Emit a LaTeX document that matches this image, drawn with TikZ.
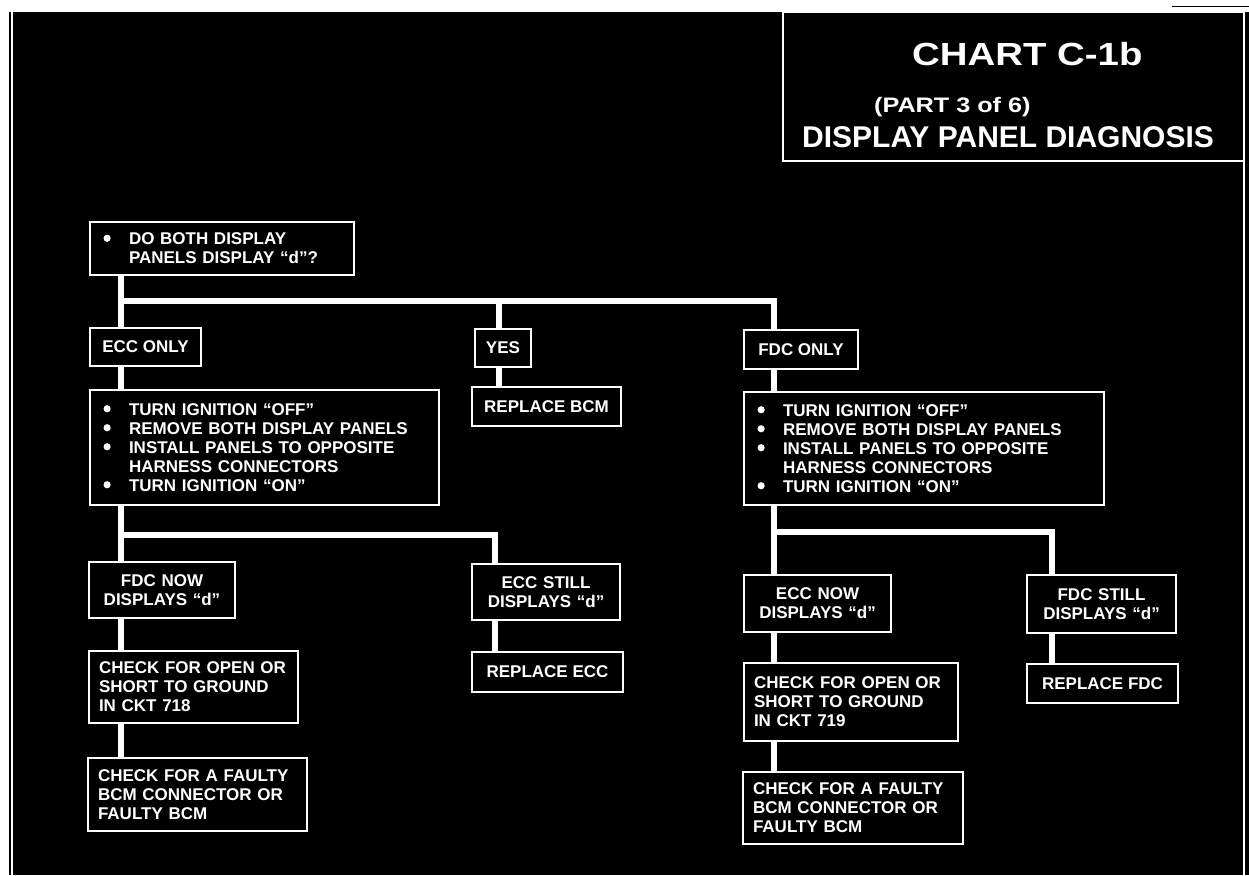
\documentclass[tikz,border=0pt]{standalone}
\usepackage{fontspec}
\setmainfont{Liberation Sans}
\usepackage{graphicx}
\usepackage{tikz}
\newcommand{\bul}{\makebox[26pt][l]{\hspace{0.5pt}\raisebox{3pt}{\tikz\fill[white] (0,0) circle (3.6pt);}}}
\newcommand{\ind}{\hspace*{26pt}}

\begin{document}
\begin{tikzpicture}[x=1pt, y=-1pt,
    box/.style={draw=white, line width=2pt, text=white, anchor=north west,
      inner ysep=0pt, font=\bfseries\fontsize{17}{19}\selectfont},
    lbox/.style={box, align=left, inner xsep=10pt},
    bbox/.style={box, align=left, inner xsep=13pt},
    cbox/.style={box, align=center, inner xsep=5pt},
    sbox/.style={box, align=center, inner xsep=0pt},
    link/.style={white, line width=6.5pt},
    ttl/.style={text=white, anchor=base west, inner sep=0pt}]

    % Sheet
    \useasboundingbox (0,0) rectangle (1249,875);
    \fill[white] (0,0) rectangle (1249,875);
    \fill[black] (13,12) rectangle (1249,875);
    \draw[black, line width=2pt] (10,12) -- (10,875);
    \draw[white, line width=2pt] (1244,12) -- (1244,875);
    \draw[black, line width=1pt] (1172,7) -- (1249,7);

    % Title
    \node[draw=white, line width=1.5pt, anchor=north west, inner sep=0pt,
      minimum width=461pt, minimum height=148pt] (tbox) at (782,12) {};
    \node[ttl, font=\bfseries\fontsize{32}{32}\selectfont] (tchart) at (912,65)
      {\scalebox{1.2}[1]{CHART C-1b}};
    \node[ttl, font=\bfseries\fontsize{21}{21}\selectfont] (tpart) at (874,112)
      {\scalebox{1.2}[1]{(PART 3 of 6)}};
    \node[ttl, font=\bfseries\fontsize{30}{30}\selectfont] (tdiag) at (802,147)
      {DISPLAY PANEL DIAGNOSIS};

    % Question
    \node[bbox, text width=238pt, minimum height=53pt] (q) at (89,221)
      {\bul DO BOTH DISPLAY\\ \ind PANELS DISPLAY “d”?};

    % First answers
    \node[sbox, minimum width=111pt, minimum height=38pt] (eccA) at (89,327) {ECC ONLY};
    \node[sbox, minimum width=56pt, minimum height=38pt] (yes) at (474,328) {YES};
    \node[sbox, minimum width=149pt, minimum height=39pt] (bcm) at (471,386) {REPLACE BCM};
    \node[sbox, minimum width=114pt, minimum height=39pt] (fdcA) at (743,329) {FDC ONLY};

    % Swap panels
    \node[bbox, text width=323pt, minimum height=115pt] (eccB) at (89,389)
      {\bul TURN IGNITION “OFF”\\ \bul REMOVE BOTH DISPLAY PANELS\\
       \bul INSTALL PANELS TO OPPOSITE\\ \ind HARNESS CONNECTORS\\
       \bul TURN IGNITION “ON”};
    \node[bbox, text width=334pt, minimum height=113pt] (fdcB) at (743,391)
      {\bul TURN IGNITION “OFF”\\ \bul REMOVE BOTH DISPLAY PANELS\\
       \bul INSTALL PANELS TO OPPOSITE\\ \ind HARNESS CONNECTORS\\
       \bul TURN IGNITION “ON”};

    % ECC side results
    \node[cbox, text width=136pt, minimum height=56pt] (fdcNow) at (88,561)
      {FDC NOW\\ DISPLAYS “d”};
    \node[lbox, text width=189pt, minimum height=72pt] (ckL) at (88,650)
      {CHECK FOR OPEN OR\\ SHORT TO GROUND\\ IN CKT 718};
    \node[lbox, text width=199pt, minimum height=73pt] (bcmL) at (87,757)
      {CHECK FOR A FAULTY\\ BCM CONNECTOR OR\\ FAULTY BCM};
    \node[cbox, text width=138pt, minimum height=56pt] (eccStill) at (471,563)
      {ECC STILL\\ DISPLAYS “d”};
    \node[sbox, minimum width=151pt, minimum height=40pt] (rEcc) at (471,651) {REPLACE ECC};

    % FDC side results
    \node[cbox, text width=137pt, minimum height=57pt] (eccNow) at (743,574)
      {ECC NOW\\ DISPLAYS “d”};
    \node[lbox, text width=194pt, minimum height=78pt] (ckR) at (743,662)
      {CHECK FOR OPEN OR\\ SHORT TO GROUND\\ IN CKT 719};
    \node[lbox, text width=200pt, minimum height=72pt] (bcmR) at (742,771)
      {CHECK FOR A FAULTY\\ BCM CONNECTOR OR\\ FAULTY BCM};
    \node[cbox, text width=139pt, minimum height=58pt] (fdcStill) at (1026,574)
      {FDC STILL\\ DISPLAYS “d”};
    \node[sbox, minimum width=151pt, minimum height=39pt] (rFdc) at (1026,663) {REPLACE FDC};

    % Junctions
    \coordinate (j1) at (121,301);
    \coordinate (jy) at (499,301);
    \coordinate (j1r) at (774,301);
    \coordinate (j2) at (121,535);
    \coordinate (j2r) at (495,535);
    \coordinate (j3) at (774,532);
    \coordinate (j3r) at (1052,532);

    % Main trunk
    \draw[link] (q.south -| j1) -- (eccA.north -| j1);
    \draw[link] (j1) -- (j1r) -- (fdcA.north -| j1r);
    \draw[link] (jy) -- (yes.north -| jy);
    \draw[link] (yes.south -| jy) -- (bcm.north -| jy);
    \draw[link] (eccA.south -| j1) -- (eccB.north -| j1);
    \draw[link] (fdcA.south -| j1r) -- (fdcB.north -| j1r);

    % ECC branch
    \draw[link] (eccB.south -| j2) -- (fdcNow.north -| j2);
    \draw[link] (j2) -- (j2r) -- (eccStill.north -| j2r);
    \draw[link] (eccStill.south -| j2r) -- (rEcc.north -| j2r);
    \draw[link] (fdcNow.south -| j2) -- (ckL.north -| j2);
    \draw[link] (ckL.south -| j2) -- (bcmL.north -| j2);

    % FDC branch
    \draw[link] (fdcB.south -| j3) -- (eccNow.north -| j3);
    \draw[link] (j3) -- (j3r) -- (fdcStill.north -| j3r);
    \draw[link] (fdcStill.south -| j3r) -- (rFdc.north -| j3r);
    \draw[link] (eccNow.south -| j3) -- (ckR.north -| j3);
    \draw[link] (ckR.south -| j3) -- (bcmR.north -| j3);

\end{tikzpicture}
\end{document}
